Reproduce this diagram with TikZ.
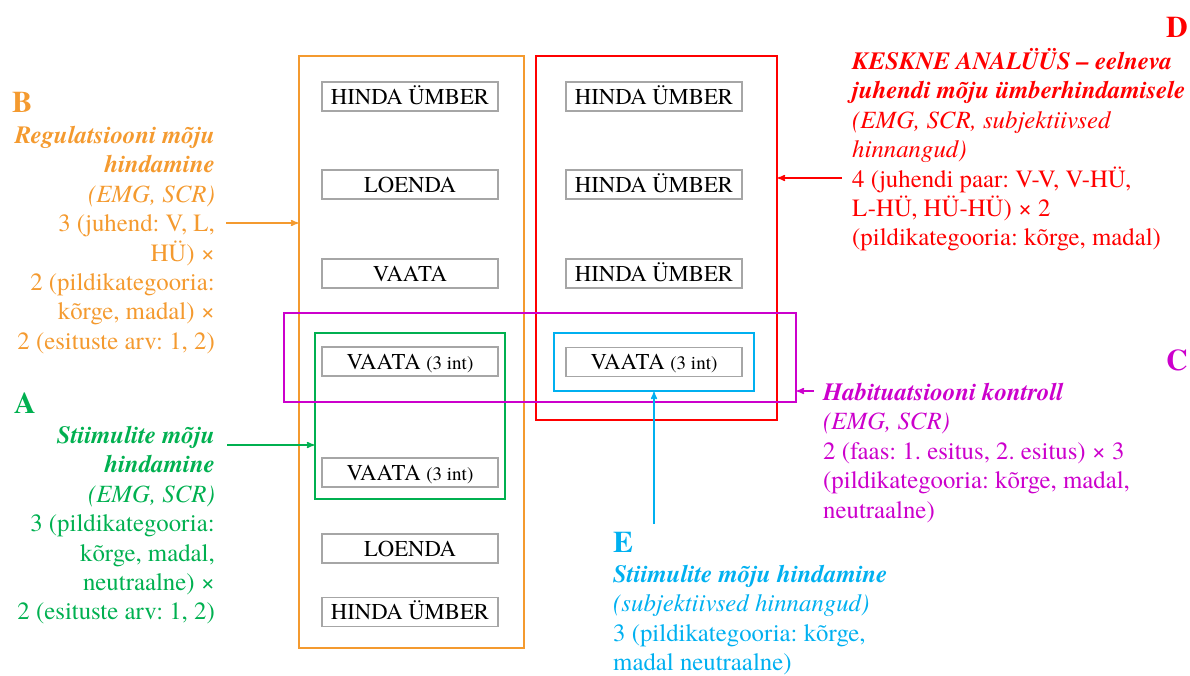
\documentclass[tikz,border=0pt]{standalone}
\usepackage{fontspec}
\setmainfont{texgyretermes-regular.otf}[BoldFont=texgyretermes-bold.otf, ItalicFont=texgyretermes-italic.otf, BoldItalicFont=texgyretermes-bolditalic.otf]
\usetikzlibrary{arrows}
\definecolor{orng}{HTML}{F49A2F}
\definecolor{grn}{HTML}{00B050}
\definecolor{rd}{HTML}{FF0000}
\definecolor{mgt}{HTML}{CC00CC}
\definecolor{cyn}{HTML}{00B0F0}
\definecolor{boxgray}{HTML}{A6A6A6}
\newcommand{\ints}{{\fontsize{19}{20}\selectfont (3 int)}}
\frenchspacing

\begin{document}
\begin{tikzpicture}[x=1pt,y=-1pt,
 frame/.style={draw, line width=2pt, inner sep=0pt},
 taskbox/.style={draw=boxgray, line width=1.5pt, fill=white, minimum width=176pt, minimum height=29pt, inner sep=0pt, text height=15pt, text depth=0pt, font=\fontsize{22.7}{24}\selectfont},
 lbl/.style={font=\fontsize{30}{30}\selectfont\bfseries, inner sep=0pt},
 note/.style={font=\fontsize{24.8}{29.4}\selectfont, inner sep=0pt},
 arr/.style={->, >=stealth', line width=1.5pt}]
\useasboundingbox (0,0) rectangle (1190,675);
\node[frame, draw=orng, minimum width=225pt, minimum height=592pt] (regbox) at (411.5,352) {};
\node[frame, draw=rd, minimum width=241pt, minimum height=364pt] (keskbox) at (656.5,238) {};
\node[frame, draw=grn, minimum width=190pt, minimum height=166pt] (stimbox) at (410,416) {};
\node[frame, draw=cyn, minimum width=200pt, minimum height=58pt] (subjbox) at (654,362) {};
\node[frame, draw=mgt, minimum width=512pt, minimum height=89pt] (habbox) at (540,357.5) {};
\foreach \y/\txt/\nm in {96.5/HINDA ÜMBER/l1, 184.5/LOENDA/l2, 273.5/VAATA/l3, 361.5/VAATA \ints/l4, 472.5/VAATA \ints/l5, 548.5/LOENDA/l6, 612/HINDA ÜMBER/l7}
 \node[taskbox] (\nm) at (410,\y) {\txt};
\foreach \y/\txt/\nm in {96.5/HINDA ÜMBER/r1, 184.5/HINDA ÜMBER/r2, 273.5/HINDA ÜMBER/r3, 362/VAATA \ints/r4}
 \node[taskbox] (\nm) at (654,\y) {\txt};
\node[lbl, text=orng, anchor=base west] (blbl) at (12,112) {B};
\node[note, text=orng, align=right, anchor=north east] (btxt) at (215,126) {\textbf{\textit{Regulatsiooni mõju}}\\\textbf{\textit{hindamine}}\\\textit{(EMG, SCR)}\\3 (juhend: V, L,\\HÜ) ×\\2 (pildikategooria:\\kõrge, madal) ×\\2 (esituste arv: 1, 2)};
\node[lbl, text=grn, anchor=base west] (albl) at (14,413) {A};
\node[note, text=grn, align=right, anchor=north east] (atxt) at (215,426) {\textbf{\textit{Stiimulite mõju}}\\\textbf{\textit{hindamine}}\\\textit{(EMG, SCR)}\\3 (pildikategooria:\\kõrge, madal,\\neutraalne) ×\\2 (esituste arv: 1, 2)};
\node[lbl, text=rd, anchor=base east] (dlbl) at (1188,37) {D};
\node[note, text=rd, align=left, anchor=north west] (dtxt) at (852,48) {\textbf{\textit{KESKNE ANALÜÜS – eelneva}}\\\textbf{\textit{juhendi mõju ümberhindamisele}}\\\textit{(EMG, SCR, subjektiivsed}\\\textit{hinnangud)}\\4 (juhendi paar: V-V, V-HÜ,\\L-HÜ, HÜ-HÜ) × 2\\(pildikategooria: kõrge, madal)};
\node[lbl, text=mgt, anchor=base east] (clbl) at (1188,370) {C};
\node[note, text=mgt, align=left, anchor=north west] (ctxt) at (823,383) {\textbf{\textit{Habituatsiooni kontroll}}\\\textit{(EMG, SCR)}\\2 (faas: 1. esitus, 2. esitus) × 3\\(pildikategooria: kõrge, madal,\\neutraalne)};
\node[lbl, text=cyn, anchor=base west] (elbl) at (613,552) {E};
\node[note, text=cyn, align=left, anchor=north west] (etxt) at (613,565) {\textbf{\textit{Stiimulite mõju hindamine}}\\\textit{(subjektiivsed hinnangud)}\\3 (pildikategooria: kõrge,\\madal neutraalne)};
\coordinate (bfrom) at (226,223);
\coordinate (afrom) at (227,445);
\coordinate (dfrom) at (842,178);
\coordinate (cfrom) at (814,391);
\coordinate (efrom) at (654,524);
\draw[arr, orng] (bfrom) -- (bfrom -| regbox.west);
\draw[arr, grn] (afrom) -- (afrom -| stimbox.west);
\draw[arr, rd] (dfrom) -- (dfrom -| keskbox.east);
\draw[arr, mgt] (cfrom) -- (cfrom -| habbox.east);
\draw[arr, cyn] (efrom) -- (efrom |- subjbox.south);
\end{tikzpicture}
\end{document}
